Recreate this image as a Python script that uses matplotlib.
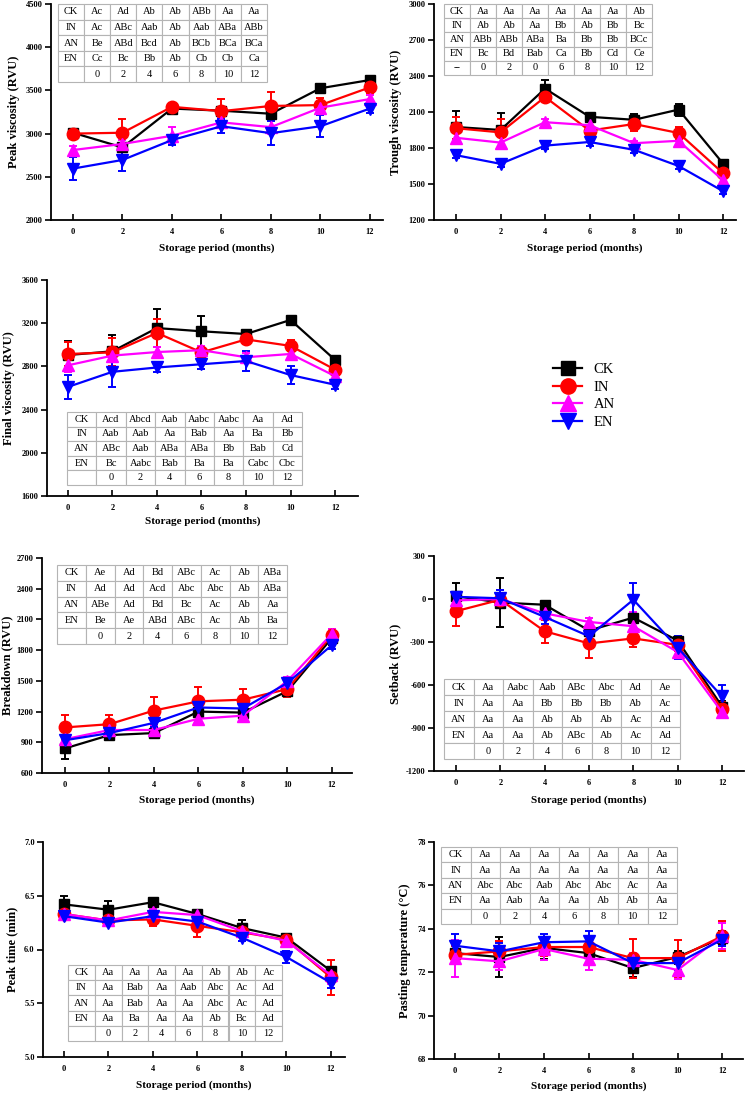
import numpy as np
import matplotlib.pyplot as plt

plt.rcParams['font.family'] = ['Liberation Serif', 'DejaVu Serif']

W, H = 746, 1093
months = [0, 2, 4, 6, 8, 10, 12]
groups = ['CK', 'IN', 'AN', 'EN']
colors = {'CK': 'black', 'IN': '#ff0000', 'AN': '#ff00ff', 'EN': '#0000ff'}
markers = {'CK': 's', 'IN': 'o', 'AN': '^', 'EN': 'v'}
msize = {'CK': 7.5, 'IN': 9, 'AN': 9, 'EN': 9}

# ---- peak viscosity
pv = {'CK': [3010, 2840, 3290, 3265, 3230, 3525, 3620],
      'IN': [3000, 3010, 3310, 3260, 3320, 3330, 3535],
      'AN': [2810, 2880, 2975, 3130, 3075, 3300, 3400],
      'EN': [2595, 2695, 2925, 3085, 3005, 3085, 3290]}
pv_err = {'CK': [30, 30, 50, 40, 60, 40, 40],
          'IN': [20, 160, 40, 140, 160, 80, 60],
          'AN': [50, 50, 100, 60, 80, 60, 50],
          'EN': [130, 130, 60, 80, 140, 130, 50]}
pv_tab = [['CK', 'Ac', 'Ad', 'Ab', 'Ab', 'ABb', 'Aa', 'Aa'],
          ['IN', 'Ac', 'ABc', 'Aab', 'Ab', 'Aab', 'ABa', 'ABb'],
          ['AN', 'Be', 'ABd', 'Bcd', 'Ab', 'BCb', 'BCa', 'BCa'],
          ['EN', 'Cc', 'Bc', 'Bb', 'Ab', 'Cb', 'Cb', 'Ca'],
          ['', '0', '2', '4', '6', '8', '10', '12']]

# ---- trough viscosity
tv = {'CK': [1975, 1950, 2295, 2060, 2035, 2120, 1670],
      'IN': [1965, 1930, 2225, 1945, 2000, 1925, 1590],
      'AN': [1885, 1845, 2015, 1990, 1840, 1860, 1530],
      'EN': [1740, 1668, 1820, 1850, 1785, 1650, 1440]}
tv_err = {'CK': [130, 140, 75, 20, 50, 50, 20],
          'IN': [90, 110, 20, 20, 60, 50, 30],
          'AN': [40, 50, 30, 30, 20, 40, 30],
          'EN': [25, 25, 30, 30, 25, 25, 25]}
tv_tab = [['CK', 'Aa', 'Aa', 'Aa', 'Aa', 'Aa', 'Aa', 'Ab'],
          ['IN', 'Ab', 'Ab', 'Aa', 'Bb', 'Ab', 'Bb', 'Bc'],
          ['AN', 'ABb', 'ABb', 'ABa', 'Ba', 'Bb', 'Bb', 'BCc'],
          ['EN', 'Bc', 'Bd', 'Bab', 'Ca', 'Bb', 'Cd', 'Ce'],
          ['--', '0', '2', '0', '6', '8', '10', '12']]

# ---- final viscosity
fv = {'CK': [2905, 2940, 3155, 3125, 3100, 3230, 2860],
      'IN': [2915, 2930, 3110, 2930, 3050, 2990, 2770],
      'AN': [2810, 2900, 2933, 2950, 2885, 2915, 2710],
      'EN': [2610, 2750, 2790, 2820, 2850, 2720, 2630]}
fv_err = {'CK': [130, 150, 180, 145, 40, 30, 20],
          'IN': [110, 130, 130, 40, 40, 50, 30],
          'AN': [60, 30, 50, 40, 40, 50, 30],
          'EN': [110, 140, 40, 40, 90, 80, 40]}
fv_tab = [['CK', 'Acd', 'Abcd', 'Aab', 'Aabc', 'Aabc', 'Aa', 'Ad'],
          ['IN', 'Aab', 'Aab', 'Aa', 'Bab', 'Aa', 'Ba', 'Bb'],
          ['AN', 'ABc', 'Aab', 'ABa', 'ABa', 'Bb', 'Bab', 'Cd'],
          ['EN', 'Bc', 'Aabc', 'Bab', 'Ba', 'Ba', 'Cabc', 'Cbc'],
          ['', '0', '2', '4', '6', '8', '10', '12']]

# ---- breakdown
bd = {'CK': [840, 970, 990, 1200, 1190, 1400, 1920],
      'IN': [1045, 1077, 1210, 1300, 1316, 1420, 1950],
      'AN': [930, 1020, 1020, 1130, 1160, 1500, 1960],
      'EN': [920, 990, 1090, 1240, 1230, 1480, 1850]}
bd_err = {'CK': [100, 20, 30, 40, 40, 40, 70],
          'IN': [120, 90, 130, 140, 100, 80, 60],
          'AN': [40, 40, 40, 40, 40, 40, 50],
          'EN': [40, 40, 40, 50, 40, 40, 40]}
bd_tab = [['CK', 'Ae', 'Ad', 'Bd', 'ABc', 'Ac', 'Ab', 'ABa'],
          ['IN', 'Ad', 'Ad', 'Acd', 'Abc', 'Abc', 'Ab', 'ABa'],
          ['AN', 'ABe', 'Ad', 'Bd', 'Bc', 'Ac', 'Ab', 'Aa'],
          ['EN', 'Be', 'Ae', 'ABd', 'ABc', 'Ac', 'Ab', 'Ba'],
          ['', '0', '2', '4', '6', '8', '10', '12']]

# ---- setback
sb = {'CK': [20, -25, -40, -220, -130, -290, -750],
      'IN': [-85, -5, -225, -310, -275, -320, -770],
      'AN': [-10, 0, -100, -160, -190, -370, -790],
      'EN': [15, 5, -125, -260, -5, -340, -680]}
sb_err = {'CK': [95, 170, 20, 40, 30, 30, 40],
          'IN': [100, 30, 80, 100, 60, 40, 50],
          'AN': [20, 60, 30, 30, 100, 40, 40],
          'EN': [30, 60, 50, 40, 120, 80, 80]}
sb_tab = [['CK', 'Aa', 'Aabc', 'Aab', 'ABc', 'Abc', 'Ad', 'Ae'],
          ['IN', 'Aa', 'Aa', 'Bb', 'Bb', 'Bb', 'Ab', 'Ac'],
          ['AN', 'Aa', 'Aa', 'Ab', 'Ab', 'Ab', 'Ac', 'Ad'],
          ['EN', 'Aa', 'Aa', 'Ab', 'ABc', 'Ab', 'Ac', 'Ad'],
          ['', '0', '2', '4', '6', '8', '10', '12']]

# ---- peak time
pt = {'CK': [6.42, 6.37, 6.44, 6.33, 6.20, 6.11, 5.80],
      'IN': [6.33, 6.27, 6.28, 6.22, 6.16, 6.09, 5.74],
      'AN': [6.33, 6.27, 6.35, 6.32, 6.17, 6.08, 5.76],
      'EN': [6.31, 6.25, 6.31, 6.26, 6.11, 5.93, 5.69]}
pt_err = {'CK': [0.08, 0.08, 0.03, 0.02, 0.07, 0.02, 0.04],
          'IN': [0.03, 0.04, 0.06, 0.10, 0.03, 0.03, 0.16],
          'AN': [0.03, 0.03, 0.03, 0.03, 0.03, 0.03, 0.08],
          'EN': [0.03, 0.03, 0.03, 0.03, 0.03, 0.06, 0.05]}
pt_tab = [['CK', 'Aa', 'Aa', 'Aa', 'Aa', 'Ab', 'Ab', 'Ac'],
          ['IN', 'Aa', 'Bab', 'Aa', 'Aab', 'Abc', 'Ac', 'Ad'],
          ['AN', 'Aa', 'Bab', 'Aa', 'Aa', 'Abc', 'Ac', 'Ad'],
          ['EN', 'Aa', 'Ba', 'Aa', 'Aa', 'Ab', 'Bc', 'Ad'],
          ['', '0', '2', '4', '6', '8', '10', '12']]

# ---- pasting temperature
ptemp = {'CK': [72.88, 72.70, 73.12, 72.88, 72.19, 72.70, 73.58],
         'IN': [72.80, 72.96, 73.16, 73.16, 72.65, 72.65, 73.66],
         'AN': [72.65, 72.50, 73.07, 72.62, 72.57, 72.10, 73.66],
         'EN': [73.22, 72.96, 73.38, 73.42, 72.42, 72.42, 73.50]}
ptemp_err = {'CK': [0.4, 0.9, 0.5, 0.5, 0.4, 0.3, 0.3],
             'IN': [0.4, 0.5, 0.4, 0.5, 0.9, 0.85, 0.7],
             'AN': [0.85, 0.4, 0.5, 0.5, 0.3, 0.4, 0.6],
             'EN': [0.55, 0.4, 0.4, 0.5, 0.4, 0.3, 0.3]}
ptemp_tab = [['CK', 'Aa', 'Aa', 'Aa', 'Aa', 'Aa', 'Aa', 'Aa'],
             ['IN', 'Aa', 'Aa', 'Aa', 'Aa', 'Aa', 'Aa', 'Aa'],
             ['AN', 'Abc', 'Abc', 'Aab', 'Abc', 'Abc', 'Ac', 'Aa'],
             ['EN', 'Aa', 'Aab', 'Aa', 'Aa', 'Ab', 'Ab', 'Aa'],
             ['', '0', '2', '4', '6', '8', '10', '12']]

# panel: data, err, table, ylabel, yticks, axes px (left, right, top, bottom),
# xlim, table px (x0, y0, x1, y1), ylabel centre x px, xlabel centre y px
panels = [
    (pv, pv_err, pv_tab, 'Peak viscosity (RVU)', np.arange(2000, 4501, 500),
     (51, 383, 4, 220), (-0.89, 12.53), (58, 4, 267, 82), 14, 248),
    (tv, tv_err, tv_tab, 'Trough viscosity (RVU)', np.arange(1200, 3001, 300),
     (434, 736, 4, 220), (-0.99, 12.58), (444, 4, 652, 75), 396, 248),
    (fv, fv_err, fv_tab, 'Final viscosity (RVU)', np.arange(1600, 3601, 400),
     (47, 358, 280, 496), (-0.94, 13.03), (67, 412, 302, 485), 9, 521),
    (bd, bd_err, bd_tab, 'Breakdown (RVU)', np.arange(600, 2701, 300),
     (42, 352, 558, 773), (-1.03, 12.9), (57, 565, 287, 644), 7, 800),
    (sb, sb_err, sb_tab, 'Setback (RVU)', np.arange(-1200, 301, 300),
     (434, 744, 556, 771), (-0.99, 12.99), (444, 679, 680, 759), 395, 800),
    (pt, pt_err, pt_tab, 'Peak time (min)', np.arange(5.0, 7.01, 0.5),
     (43, 345, 842, 1057), (-0.94, 12.63), (68, 965, 282, 1041), 12, 1085),
    (ptemp, ptemp_err, ptemp_tab, 'Pasting temperature (\u00b0C)', np.arange(68, 78.1, 2),
     (434, 743, 842, 1059), (-0.94, 12.94), (441, 847, 677, 924), 405, 1086),
]

fig = plt.figure(figsize=(W / 100, H / 100), dpi=100)

for data, err, tab, ylab, yt, (l, r, t, b), xl, (tx0, ty0, tx1, ty1), ylx, xly in panels:
    ax = fig.add_axes([l / W, 1 - b / H, (r - l) / W, (b - t) / H])
    for g in groups:
        ax.errorbar(months, data[g], yerr=err[g], color=colors[g], marker=markers[g],
                    markersize=msize[g], lw=1.6, elinewidth=1.4, capsize=3, capthick=1.4)
    ax.set_xlim(*xl)
    ax.set_ylim(yt[0], yt[-1])
    ax.set_xticks(months)
    ax.set_yticks(yt)
    if ylab.startswith('Peak time'):
        ax.set_yticklabels([f'{v:.1f}' for v in yt])
    else:
        ax.set_yticklabels([f'{v:g}' for v in yt])
    for s in ['top', 'right']:
        ax.spines[s].set_visible(False)
    for s in ['left', 'bottom']:
        ax.spines[s].set_linewidth(1.3)
    ax.tick_params(axis='x', direction='in', length=4, width=1.2, pad=6)
    ax.tick_params(axis='y', direction='out', length=4, width=1.2, pad=2)
    for lab in ax.get_xticklabels() + ax.get_yticklabels():
        lab.set_fontsize(6)
        lab.set_fontweight('bold')
    # label anchors: ylabel right edge, xlabel top edge
    ax.set_ylabel(ylab, fontsize=9, fontweight='bold')
    ax.yaxis.set_label_coords((ylx + 6 - l) / (r - l), 0.5)
    ax.set_xlabel('Storage period (months)', fontsize=8, fontweight='bold')
    ax.xaxis.set_label_coords(((l + r) / 2 - l) / (r - l), -(xly - 5 - b) / (b - t))

    # significance table
    bx = (tx0 - l) / (r - l)
    by = (b - ty1) / (b - t)
    bw = (tx1 - tx0) / (r - l)
    bh = (ty1 - ty0) / (b - t)
    table = ax.table(cellText=tab, cellLoc='center', bbox=[bx, by, bw, bh], zorder=5)
    table.auto_set_font_size(False)
    table.set_fontsize(7.5)
    for cell in table.get_celld().values():
        cell.set_edgecolor('#b4b4b4')
        cell.set_linewidth(0.8)
        cell.set_facecolor('white')
        cell.PAD = 0.02

# legend
handles = []
for g in groups:
    h, = plt.plot([], [], color=colors[g], marker=markers[g], markersize=msize[g] + 2, lw=1.6)
    handles.append(h)
fig.legend(handles, groups, loc='center', bbox_to_anchor=(584 / W, 1 - 396 / H),
           frameon=False, fontsize=10.5, handlelength=2.0, labelspacing=0.3,
           handletextpad=0.8)

fig.savefig('out.png', dpi=100)
